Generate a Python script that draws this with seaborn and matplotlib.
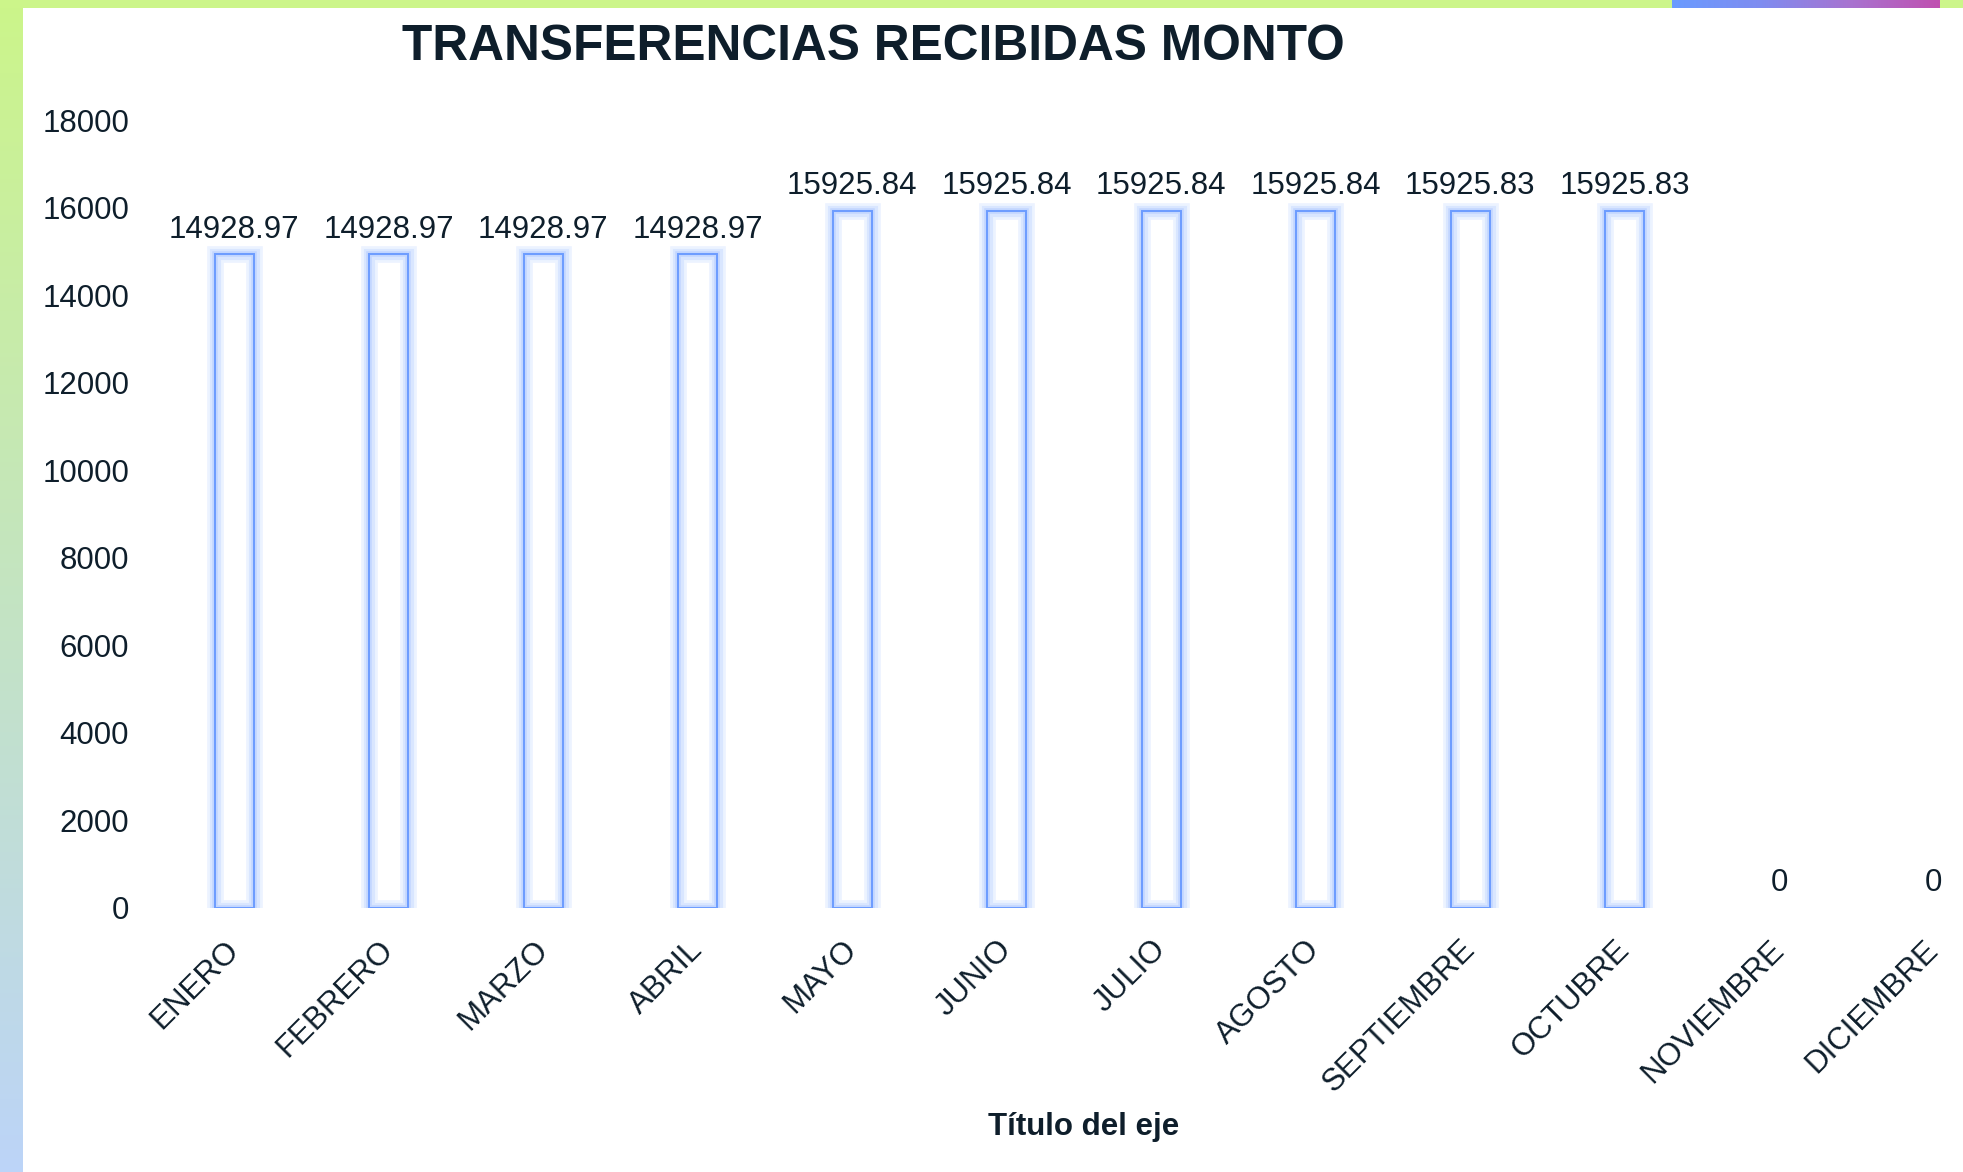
import numpy as np
import matplotlib
matplotlib.use("Agg")
import matplotlib.pyplot as plt
import matplotlib.patheffects as pe
from matplotlib.colors import LinearSegmentedColormap
import seaborn as sns
import pandas as pd

months = ["ENERO", "FEBRERO", "MARZO", "ABRIL", "MAYO", "JUNIO", "JULIO",
          "AGOSTO", "SEPTIEMBRE", "OCTUBRE", "NOVIEMBRE", "DICIEMBRE"]
values = [14928.97, 14928.97, 14928.97, 14928.97, 15925.84, 15925.84, 15925.84,
          15925.84, 15925.83, 15925.83, 0, 0]
y_ticks = [0, 2000, 4000, 6000, 8000, 10000, 12000, 14000, 16000, 18000]

TEXT = "#0e1e2b"
EDGE = "#6c9cff"

sns.set_theme(style="white")
plt.rcParams["font.family"] = ["Liberation Sans", "DejaVu Sans"]

W, H = 1963, 1172
fig = plt.figure(figsize=(W / 100, H / 100), dpi=100)
fig.patch.set_facecolor("white")

# decorative frame: left gradient strip and top strip
left = fig.add_axes([0, 0, 23 / W, 1])
cm_left = LinearSegmentedColormap.from_list("l", ["#ccf58a", "#bcd4f8"])
left.imshow(np.linspace(0, 1, 256).reshape(-1, 1), aspect="auto", cmap=cm_left,
            extent=[0, 1, 0, 1], origin="upper")
left.axis("off")
top = fig.add_axes([0, 1 - 8 / H, 1, 8 / H])
top.set_facecolor("#ccf58a")
top.set_xticks([]); top.set_yticks([])
for s in top.spines.values():
    s.set_visible(False)
tr = fig.add_axes([1672 / W, 1 - 8 / H, (1940 - 1672) / W, 8 / H])
cm_tr = LinearSegmentedColormap.from_list("t", ["#6a9bff", "#7f8cf0", "#a873d0", "#c050b0"])
tr.imshow(np.linspace(0, 1, 256).reshape(1, -1), aspect="auto", cmap=cm_tr, extent=[0, 1, 0, 1])
tr.axis("off")

# main axes
x0, x1 = 157, W
y_top, y_zero = 120, 907.7
ax = fig.add_axes([x0 / W, 1 - y_zero / H, (x1 - x0) / W, (y_zero - y_top) / H])
ax.set_facecolor("none")

df = pd.DataFrame({"mes": months, "monto": values})
sns.barplot(data=df, x="mes", y="monto", ax=ax, width=0.25, fill=False,
            color=EDGE, linewidth=1.4, order=months)

glow = [pe.Stroke(linewidth=12, foreground="#e0ebff", alpha=0.6),
        pe.Stroke(linewidth=8, foreground="#cadcff", alpha=0.55),
        pe.Stroke(linewidth=4, foreground="#b3ccff", alpha=0.6),
        pe.Normal()]
for p, v in zip(ax.patches, values):
    p.set_edgecolor(EDGE)
    p.set_path_effects(glow)
    if v == 0:
        p.set_visible(False)

labels = ["0" if v == 0 else f"{v:.2f}" for v in values]
ax.bar_label(ax.containers[0], labels=labels, padding=7, fontsize=22.5, color=TEXT)

span = (x1 - x0) / 154.5
ax.set_xlim(-0.5, -0.5 + span)
ax.set_ylim(0, 18000)
ax.set_yticks(y_ticks)
ax.set_yticklabels([str(t) for t in y_ticks])
ax.tick_params(axis="y", length=0, pad=20, labelsize=22.5, labelcolor=TEXT)
ax.tick_params(axis="x", length=0, pad=27, labelsize=22.5, labelcolor=TEXT)
for lab in ax.get_xticklabels():
    lab.set_rotation(45)
    lab.set_ha("right")
    lab.set_va("center")
    lab.set_rotation_mode("anchor")
for s in ax.spines.values():
    s.set_visible(False)
ax.grid(False)
ax.set_ylabel("")
ax.set_xlabel("Título del eje", fontsize=22.5, fontweight="bold", color=TEXT)
ax.xaxis.set_label_coords((1084 - x0) / (x1 - x0), (y_zero - 1112) / (y_zero - y_top))

fig.text(873 / W, 1 - 47 / H, "TRANSFERENCIAS RECIBIDAS MONTO", ha="center", va="center",
         fontsize=35.7, fontweight="bold", color=TEXT)

fig.savefig("out.png", dpi=100, facecolor="white")
